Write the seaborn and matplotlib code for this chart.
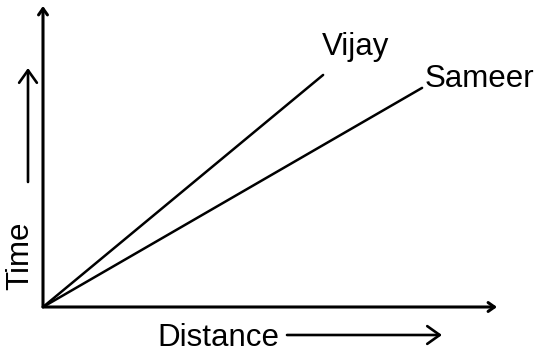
import pandas as pd
import matplotlib
matplotlib.use('Agg')
import matplotlib.pyplot as plt
import seaborn as sns

# data (axes run 0..10)
names = ['Vijay', 'Sameer']
distance_end = [6.17, 8.35]
time_end = [7.71, 7.28]

rows = []
for n, d, t in zip(names, distance_end, time_end):
    rows.append({'runner': n, 'Distance': 0.0, 'Time': 0.0})
    rows.append({'runner': n, 'Distance': d, 'Time': t})
df = pd.DataFrame(rows)

sns.set_style('white')
plt.rcParams['font.family'] = ['Liberation Sans', 'DejaVu Sans']
plt.rcParams['text.color'] = 'black'

W, H = 538, 352
fig = plt.figure(figsize=(W / 100, H / 100), dpi=100)

# axes: origin at pixel (43, 307), tips at x=497 / y=6
ax = fig.add_axes([43 / W, 1 - 307 / H, (497 - 43) / W, (307 - 6) / H])
ax.patch.set_alpha(0)

sns.lineplot(data=df, x='Distance', y='Time', units='runner', estimator=None,
             color='black', lw=1.8, ax=ax)
ax.set_xlim(0, 10)
ax.set_ylim(0, 10)
ax.set_xticks([])
ax.set_yticks([])
ax.set_xlabel('')
ax.set_ylabel('')
for s in ax.spines.values():
    s.set_visible(False)

arrow = dict(arrowstyle='->,head_length=0.45,head_width=0.32', color='black',
             lw=2.2, shrinkA=0, shrinkB=0)
ax.annotate('', xy=(1, 0), xytext=(0, 0), xycoords='axes fraction',
            arrowprops=arrow, annotation_clip=False)
ax.annotate('', xy=(0, 1), xytext=(0, 0), xycoords='axes fraction',
            arrowprops=arrow, annotation_clip=False)

# runner labels next to line ends
offsets = {'Vijay': (-1, 20), 'Sameer': (3, 1)}
for n, d, t in zip(names, distance_end, time_end):
    ax.annotate(n, xy=(d, t), xytext=offsets[n], textcoords='offset pixels',
                ha='left', va='baseline', fontsize=22.5, color='black',
                annotation_clip=False)

# axis titles with their own arrows
fig.text(157 / W, 1 - 346 / H, 'Distance', ha='left', va='baseline',
         fontsize=22.5, color='black')
fig.text(35 / W, 1 - 256 / H, 'Time', rotation=90, ha='right', va='center',
         fontsize=22.5, color='black')
small = dict(arrowstyle='->,head_length=0.45,head_width=0.32', color='black',
             lw=1.9, shrinkA=0, shrinkB=0)
fig.add_artist(matplotlib.patches.FancyArrowPatch(
    (287 / W, 1 - 335 / H), (442 / W, 1 - 335 / H), transform=fig.transFigure,
    mutation_scale=20, **small))
fig.add_artist(matplotlib.patches.FancyArrowPatch(
    (28 / W, 1 - 182 / H), (28 / W, 1 - 68 / H), transform=fig.transFigure,
    mutation_scale=20, **small))

fig.savefig('out.png', dpi=100)
